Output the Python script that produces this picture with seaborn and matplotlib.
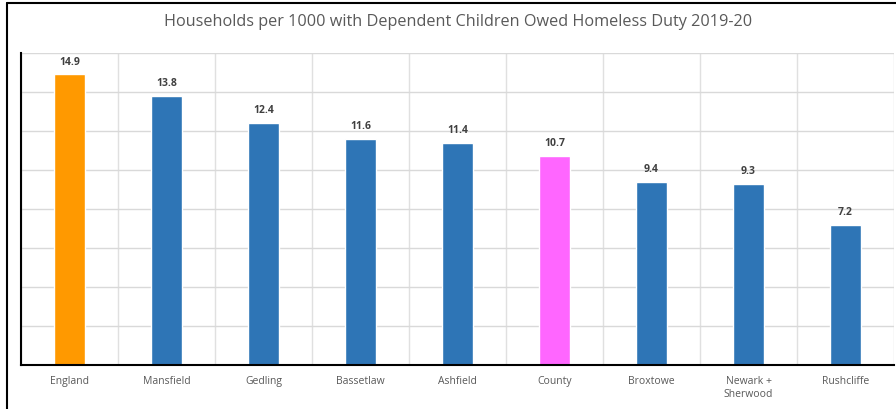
import matplotlib
matplotlib.use("Agg")
import matplotlib.pyplot as plt
import seaborn as sns
import pandas as pd
from matplotlib.lines import Line2D

areas = ["England", "Mansfield", "Gedling", "Bassetlaw", "Ashfield", "County",
         "Broxtowe", "Newark +\nSherwood", "Rushcliffe"]
rates = [14.9, 13.8, 12.4, 11.6, 11.4, 10.7, 9.4, 9.3, 7.2]
bar_colors = ["#FF9900", "#2E75B6", "#2E75B6", "#2E75B6", "#2E75B6", "#FF66FF",
              "#2E75B6", "#2E75B6", "#2E75B6"]
title = "Households per 1000 with Dependent Children Owed Homeless Duty 2019-20"

df = pd.DataFrame({"area": areas, "rate": rates})

sns.set_theme(style="white")
plt.rcParams["font.family"] = ["Open Sans", "DejaVu Sans"]

fig = plt.figure(figsize=(8.96, 4.09), dpi=100)
ax = fig.add_axes([21 / 896, 44 / 409, 873 / 896, 312 / 409])

sns.barplot(data=df, x="area", y="rate", hue="area", palette=bar_colors,
            legend=False, width=0.32, saturation=1, ax=ax)

ax.set_ylim(0, 16)
ax.set_xlim(-0.5, len(areas) - 0.5)
ax.set_yticks(range(0, 17, 2))
ax.set_yticklabels([])
ax.tick_params(axis="y", length=0)
ax.set_xticks(range(len(areas)))
ax.set_xticks([i - 0.5 for i in range(len(areas) + 1)], minor=True)
ax.tick_params(axis="x", which="both", length=0, pad=8, labelsize=7.5,
               labelcolor="#595959")
ax.grid(axis="y", which="major", color="#D9D9D9", linewidth=1)
ax.grid(axis="x", which="minor", color="#E0E0E0", linewidth=1)
ax.grid(axis="x", which="major", visible=False)
ax.set_axisbelow(True)
ax.set_xlabel("")
ax.set_ylabel("")

for side in ["top", "right"]:
    ax.spines[side].set_visible(False)
for side in ["left", "bottom"]:
    ax.spines[side].set_color("black")
    ax.spines[side].set_linewidth(1.5)

for container in ax.containers:
    ax.bar_label(container, fmt="%.1f", padding=5, fontsize=7.5,
                 fontweight="bold", color="#404040")

fig.text(458 / 896, 1 - 22 / 409, title, ha="center", va="center",
         fontsize=11.7, color="#595959")

# chart frame edges
fig.add_artist(Line2D([7 / 896, 7 / 896], [0, 1 - 3 / 409],
                      transform=fig.transFigure, color="black", linewidth=1.5))
fig.add_artist(Line2D([7 / 896, 1], [1 - 3 / 409, 1 - 3 / 409],
                      transform=fig.transFigure, color="black", linewidth=1.5))

fig.savefig("out.png", dpi=100, facecolor="white")
